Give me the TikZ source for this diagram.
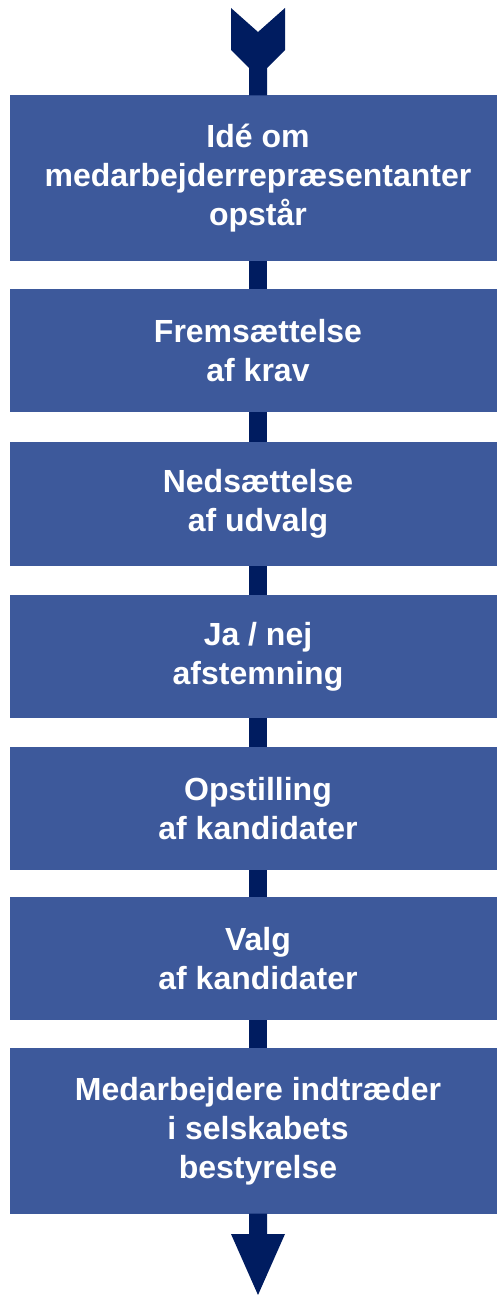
\documentclass[tikz,border=0pt]{standalone}
\usepackage{fontspec}
\setmainfont{Liberation Sans}
\definecolor{boxblue}{RGB}{61,89,155}
\definecolor{navy}{RGB}{0,28,96}
\tikzset{
  stepbox/.style={rectangle, fill=boxblue, draw=none, inner sep=0pt,
    minimum width=496pt, text=white, align=center,
    font=\fontsize{32}{39}\selectfont\bfseries},
  link/.style={draw=navy, line width=18pt}
}
\begin{document}
\begin{tikzpicture}[x=1pt,y=-1pt]
\useasboundingbox (0,0) rectangle (497,1295);
\node[stepbox, minimum height=166pt] (b1) at (258,178) {Idé om\\medarbejderrepræsentanter\\opstår};
\node[stepbox, minimum height=123pt] (b2) at (258,350.5) {Fremsættelse\\af krav};
\node[stepbox, minimum height=124pt] (b3) at (258,504) {Nedsættelse\\af udvalg};
\node[stepbox, minimum height=123pt] (b4) at (258,656.5) {Ja / nej\\afstemning};
\node[stepbox, minimum height=123pt] (b5) at (258,808.5) {Opstilling\\af kandidater};
\node[stepbox, minimum height=123pt] (b6) at (258,958.5) {Valg\\af kandidater};
\node[stepbox, minimum height=166pt] (b7) at (258,1131) {Medarbejdere indtræder\\i selskabets\\bestyrelse};
\draw[link] (b1.south) -- (b2.north);
\draw[link] (b2.south) -- (b3.north);
\draw[link] (b3.south) -- (b4.north);
\draw[link] (b4.south) -- (b5.north);
\draw[link] (b5.south) -- (b6.north);
\draw[link] (b6.south) -- (b7.north);
% top chevron
\fill[navy] (231,8) -- (258,32) -- (285,8) -- (285,50) -- (267,68) -- (267,95.5)
  -- (249,95.5) -- (249,68) -- (231,50) -- cycle;
% bottom arrow
\coordinate (tip) at (258,1295);
\fill[navy] (249,1213.5) -- (267,1213.5) -- (267,1234) -- (285,1234) -- (tip)
  -- (231,1234) -- (249,1234) -- cycle;
\end{tikzpicture}
\end{document}
